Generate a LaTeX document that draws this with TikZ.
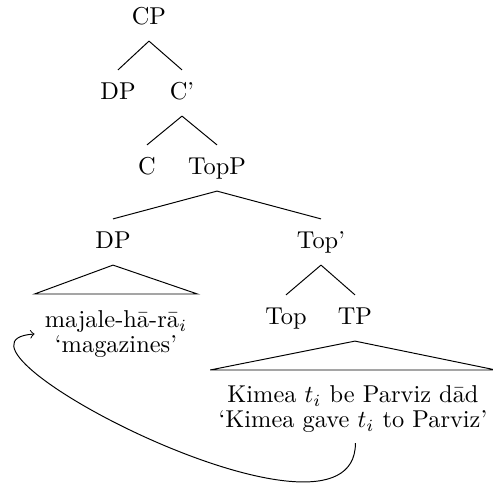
\documentclass[tikz,border=0pt]{standalone}
\begin{document}
\begin{tikzpicture}[x=0.41pt,y=-0.41pt,
  lab/.style={inner xsep=1pt, inner ysep=5.5pt, text height=1.5ex, text depth=.25ex},
  yield/.style={anchor=north, align=center}]
\useasboundingbox (0,0) rectangle (493,485);
\node[lab] (cp) at (149,18) {CP};
\node[lab] (dp1) at (118,93) {DP};
\node[lab] (cbar) at (182,93) {C'};
\node[lab] (c) at (147,168) {C};
\node[lab] (topp) at (217,168) {TopP};
\node[lab] (dp2) at (113,242) {DP};
\node[lab] (topbar) at (321,242) {Top'};
\node[lab] (top) at (286,318) {Top};
\node[lab] (tp) at (355,318) {TP};
\node[yield, inner xsep=4pt, inner ysep=6.6pt] (mag) at (116,294)
  {majale-h\=a-r\=a$_i$\\[-1.8pt]`magazines'};
\node[yield, inner xsep=3.3pt, inner ysep=6.2pt] (kim) at (353,370)
  {Kimea $t_i$ be Parviz d\=ad\\[-1.8pt]`Kimea gave $t_i$ to Parviz'};
\draw (cp.south) -- (dp1.north);
\draw (cp.south) -- (cbar.north);
\draw (cbar.south) -- (c.north);
\draw (cbar.south) -- (topp.north);
\draw (topp.south) -- (dp2.north);
\draw (topp.south) -- (topbar.north);
\draw (topbar.south) -- (top.north);
\draw (topbar.south) -- (tp.north);
\draw (dp2.south) -- (mag.north west) -- (mag.north east) -- cycle;
\draw (tp.south) -- (kim.north west) -- (kim.north east) -- cycle;
\coordinate (trace) at ([xshift=1pt,yshift=2pt]kim.south);
\draw[->] (trace) .. controls +(0,128) and +(-118,8) .. (mag.west);
\end{tikzpicture}
\end{document}
